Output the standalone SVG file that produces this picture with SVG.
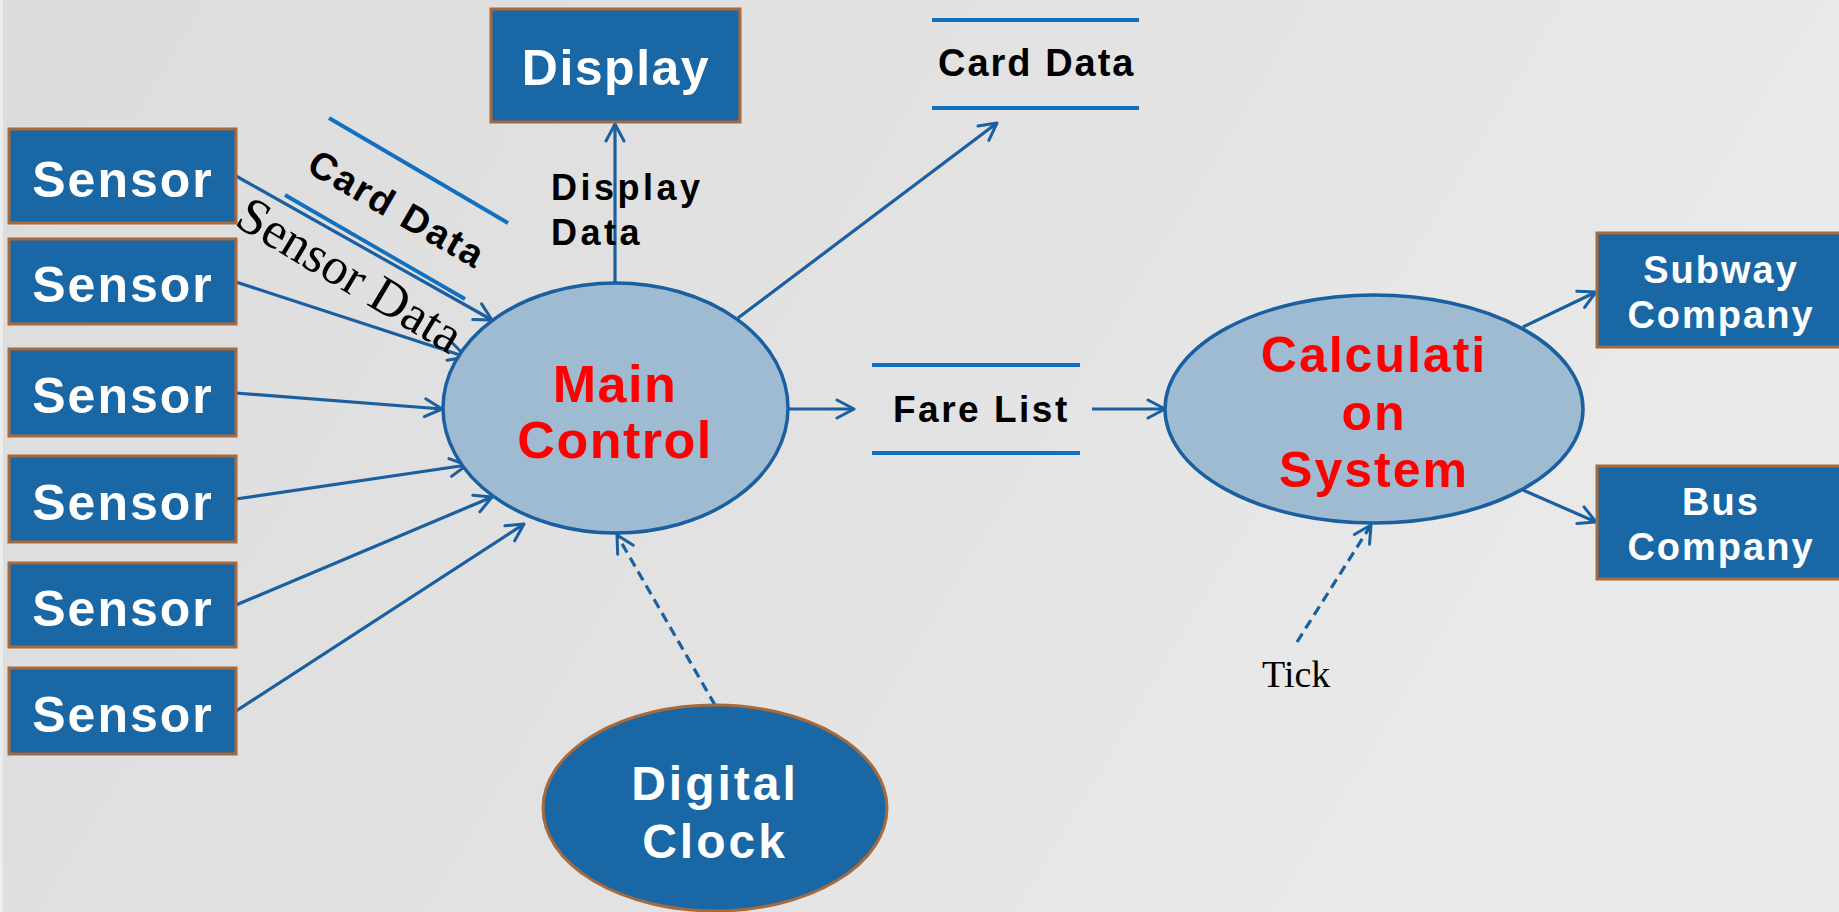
<svg xmlns="http://www.w3.org/2000/svg" width="1839" height="912" viewBox="0 0 1839 912">
<defs>
<linearGradient id="bg" x1="0" y1="0" x2="1" y2="0.3">
<stop offset="0" stop-color="#dcdcdc"/>
<stop offset="0.6" stop-color="#e3e3e3"/>
<stop offset="1" stop-color="#eaeaea"/>
</linearGradient>
<marker id="arr" viewBox="0 0 22 22" refX="20" refY="11" markerWidth="22" markerHeight="22" orient="auto" markerUnits="userSpaceOnUse">
<path d="M3,2 L20,11 L3,20" fill="none" stroke="#1a5fa0" stroke-width="3" stroke-linecap="round" stroke-linejoin="round"/>
</marker>
<style>
.box{fill:#1a67a5;stroke:#a8693b;stroke-width:3}
.proc{fill:#9fbbd2;stroke:#1a5fa0;stroke-width:3.5}
.ext{fill:#1a67a5;stroke:#a8693b;stroke-width:3}
.wt{font-family:"Liberation Sans",Arial,sans-serif;font-weight:bold;fill:#ffffff;text-anchor:middle}
.rt{font-family:"Liberation Sans",Arial,sans-serif;font-weight:bold;fill:#ff0000;text-anchor:middle}
.bt{font-family:"Liberation Sans",Arial,sans-serif;font-weight:bold;fill:#000000}
.st{font-family:"Liberation Serif","Times New Roman",serif;fill:#000000}
.con{stroke:#1a5fa0;stroke-width:3.2;fill:none;marker-end:url(#arr)}
.dash{stroke-dasharray:10 6}
.store{stroke:#1270c0;stroke-width:3.8}
</style>
</defs>
<rect x="0" y="0" width="1839" height="912" fill="url(#bg)"/>
<rect x="0" y="0" width="3" height="912" fill="#ececec"/>

<g id="connectors">
<line class="con" x1="615" y1="283" x2="615" y2="124"/>
<line class="con" x1="738" y1="318" x2="997" y2="123"/>
<line class="con" x1="788" y1="409" x2="854" y2="409"/>
<line class="con" x1="1092" y1="409" x2="1165" y2="409"/>
<line class="con" x1="1523" y1="327" x2="1596" y2="292"/>
<line class="con" x1="1523" y1="490" x2="1596" y2="522"/>
<line class="con dash" x1="1297" y1="642" x2="1371" y2="525"/>
<line class="con dash" x1="715" y1="705" x2="617" y2="535"/>
<line class="con" x1="236" y1="176" x2="492" y2="320"/>
<line class="con" x1="236" y1="282" x2="466" y2="357"/>
<line class="con" x1="236" y1="393" x2="442" y2="409"/>
<line class="con" x1="236" y1="499" x2="467" y2="465"/>
<line class="con" x1="236" y1="605" x2="492" y2="497"/>
<line class="con" x1="236" y1="711" x2="524" y2="524"/>
</g>

<g id="labels">
<text class="bt" x="551" y="200" font-size="36" letter-spacing="3.5">Display</text>
<text class="bt" x="551" y="245" font-size="36" letter-spacing="3.5">Data</text>
<text class="bt" transform="translate(397,209) rotate(30)" x="0" y="13" font-size="38" letter-spacing="2" text-anchor="middle">Card Data</text>
<text class="st" transform="translate(350,275) rotate(31)" x="0" y="17" font-size="52" text-anchor="middle">Sensor Data</text>
<text class="st" x="1262" y="687" font-size="38">Tick</text>
</g>

<g id="store-card-data-rot">
<line class="store" x1="329" y1="118" x2="508" y2="223"/>
<line class="store" x1="285" y1="195" x2="465" y2="299"/>
</g>

<g id="store-card-data">
<line class="store" x1="932" y1="20" x2="1139" y2="20"/>
<line class="store" x1="932" y1="108" x2="1139" y2="108"/>
<text class="bt" x="938" y="76" font-size="38" letter-spacing="2">Card Data</text>
</g>

<g id="store-fare-list">
<line class="store" x1="872" y1="365" x2="1080" y2="365"/>
<line class="store" x1="872" y1="453" x2="1080" y2="453"/>
<text class="bt" x="893" y="422" font-size="37" letter-spacing="2.5">Fare List</text>
</g>

<g id="display">
<rect class="box" x="491" y="9" width="249" height="113"/>
<text class="wt" x="616" y="85" font-size="50" letter-spacing="1.5">Display</text>
</g>

<g id="sensor1">
<rect class="box" x="9" y="129" width="227" height="94"/>
<text class="wt" x="123" y="197" font-size="50" letter-spacing="2">Sensor</text>
</g>
<g id="sensor2">
<rect class="box" x="9" y="239" width="227" height="85"/>
<text class="wt" x="123" y="302" font-size="50" letter-spacing="2">Sensor</text>
</g>
<g id="sensor3">
<rect class="box" x="9" y="349" width="227" height="87"/>
<text class="wt" x="123" y="413" font-size="50" letter-spacing="2">Sensor</text>
</g>
<g id="sensor4">
<rect class="box" x="9" y="456" width="227" height="86"/>
<text class="wt" x="123" y="520" font-size="50" letter-spacing="2">Sensor</text>
</g>
<g id="sensor5">
<rect class="box" x="9" y="563" width="227" height="84"/>
<text class="wt" x="123" y="626" font-size="50" letter-spacing="2">Sensor</text>
</g>
<g id="sensor6">
<rect class="box" x="9" y="668" width="227" height="86"/>
<text class="wt" x="123" y="732" font-size="50" letter-spacing="2">Sensor</text>
</g>

<g id="main-control">
<ellipse class="proc" cx="615.5" cy="408" rx="172.5" ry="125"/>
<text class="rt" x="615" y="402" font-size="52" letter-spacing="1.5">Main</text>
<text class="rt" x="615" y="458" font-size="52" letter-spacing="1.5">Control</text>
</g>

<g id="calculation-system">
<ellipse class="proc" cx="1374" cy="409" rx="209" ry="114"/>
<text class="rt" x="1374" y="372" font-size="50" letter-spacing="2">Calculati</text>
<text class="rt" x="1374" y="430" font-size="50" letter-spacing="2">on</text>
<text class="rt" x="1374" y="487" font-size="50" letter-spacing="2">System</text>
</g>

<g id="digital-clock">
<ellipse class="ext" cx="715" cy="808" rx="172" ry="103"/>
<text class="wt" x="715" y="800" font-size="48" letter-spacing="3">Digital</text>
<text class="wt" x="715" y="858" font-size="48" letter-spacing="3">Clock</text>
</g>

<g id="subway-company">
<rect class="box" x="1597" y="233" width="250" height="114"/>
<text class="wt" x="1721" y="283" font-size="38" letter-spacing="2">Subway</text>
<text class="wt" x="1721" y="328" font-size="38" letter-spacing="2">Company</text>
</g>

<g id="bus-company">
<rect class="box" x="1597" y="466" width="250" height="113"/>
<text class="wt" x="1721" y="515" font-size="38" letter-spacing="2">Bus</text>
<text class="wt" x="1721" y="560" font-size="38" letter-spacing="2">Company</text>
</g>
</svg>
